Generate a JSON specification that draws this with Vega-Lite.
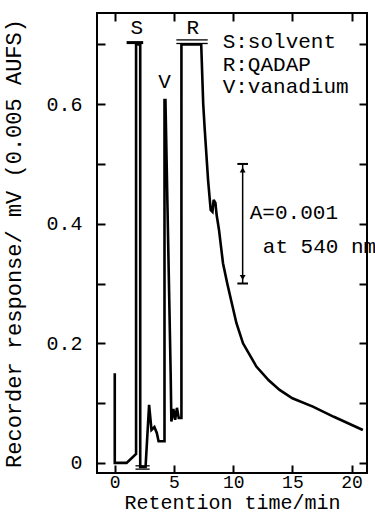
{
  "$schema": "https://vega.github.io/schema/vega-lite/v6.json",
  "width": 270,
  "height": 460,
  "autosize": "none",
  "padding": {"left": 97, "top": 13, "right": 8, "bottom": 41},
  "background": "white",
  "config": {
    "view": {"stroke": "black", "strokeWidth": 2},
    "font": "Liberation Mono",
    "axis": {
      "domain": false, "grid": false,
      "tickColor": "black", "tickWidth": 2, "tickSize": -8,
      "labelFont": "Liberation Mono", "labelFontSize": 20, "labelColor": "black",
      "titleFont": "Liberation Mono", "titleFontSize": 22, "titleFontWeight": "normal", "titleColor": "black"
    }
  },
  "datasets": {
    "trace": [
      {"i": 0, "t": 0, "v": 0.15},
      {"i": 1, "t": 0, "v": 0.0},
      {"i": 2, "t": 1.0, "v": 0.0},
      {"i": 3, "t": 1.8, "v": 0.015},
      {"i": 4, "t": 1.8, "v": 0.70},
      {"i": 5, "t": 2.15, "v": 0.70},
      {"i": 6, "t": 2.15, "v": -0.007},
      {"i": 7, "t": 2.6, "v": -0.007},
      {"i": 8, "t": 2.9, "v": 0.097},
      {"i": 9, "t": 3.1, "v": 0.055},
      {"i": 10, "t": 3.35, "v": 0.06},
      {"i": 11, "t": 3.55, "v": 0.05},
      {"i": 12, "t": 3.7, "v": 0.036},
      {"i": 13, "t": 4.05, "v": 0.036},
      {"i": 14, "t": 4.2, "v": 0.036},
      {"i": 15, "t": 4.2, "v": 0.607},
      {"i": 16, "t": 4.28, "v": 0.607},
      {"i": 17, "t": 4.72, "v": 0.15},
      {"i": 18, "t": 4.78, "v": 0.069},
      {"i": 19, "t": 4.95, "v": 0.09},
      {"i": 20, "t": 5.1, "v": 0.072},
      {"i": 21, "t": 5.25, "v": 0.092},
      {"i": 22, "t": 5.4, "v": 0.075},
      {"i": 23, "t": 5.63, "v": 0.075},
      {"i": 24, "t": 5.63, "v": 0.70},
      {"i": 25, "t": 7.3, "v": 0.70},
      {"i": 26, "t": 7.47, "v": 0.60},
      {"i": 27, "t": 7.6, "v": 0.557},
      {"i": 28, "t": 7.88, "v": 0.473},
      {"i": 29, "t": 8.1, "v": 0.423},
      {"i": 30, "t": 8.25, "v": 0.42},
      {"i": 31, "t": 8.35, "v": 0.44},
      {"i": 32, "t": 8.5, "v": 0.435},
      {"i": 33, "t": 8.6, "v": 0.415},
      {"i": 34, "t": 8.8, "v": 0.39},
      {"i": 35, "t": 9.14, "v": 0.334},
      {"i": 36, "t": 9.5, "v": 0.30},
      {"i": 37, "t": 9.85, "v": 0.27},
      {"i": 38, "t": 10.27, "v": 0.234},
      {"i": 39, "t": 10.83, "v": 0.20},
      {"i": 40, "t": 11.96, "v": 0.161},
      {"i": 41, "t": 13.0, "v": 0.138},
      {"i": 42, "t": 13.92, "v": 0.122},
      {"i": 43, "t": 15.0, "v": 0.108},
      {"i": 44, "t": 16.73, "v": 0.094},
      {"i": 45, "t": 18.5, "v": 0.077},
      {"i": 46, "t": 20.95, "v": 0.055}
    ],
    "caps": [
      {"t1": 1.0, "t2": 2.4, "v": 0.703, "w": 3},
      {"t1": 5.2, "t2": 7.85, "v": 0.7075, "w": 1.3},
      {"t1": 5.2, "t2": 7.85, "v": 0.7015, "w": 1.3},
      {"t1": 1.75, "t2": 2.95, "v": -0.005, "w": 1.3},
      {"t1": 1.75, "t2": 2.95, "v": -0.0105, "w": 1.3},
      {"t1": 10.35, "t2": 11.25, "v": 0.5, "w": 2},
      {"t1": 10.35, "t2": 11.25, "v": 0.3, "w": 2}
    ],
    "arrow": [{"t": 10.8, "v1": 0.3, "v2": 0.5}],
    "heads": [
      {"t": 10.8, "v": 0.49, "dir": "up"},
      {"t": 10.8, "v": 0.31, "dir": "down"}
    ],
    "peaks": [
      {"t": 1.86, "v": 0.727, "label": "S"},
      {"t": 6.6, "v": 0.727, "label": "R"},
      {"t": 4.2, "v": 0.637, "label": "V"}
    ],
    "notes": [
      {"t": 9.11, "v": 0.704, "label": "S:solvent"},
      {"t": 9.11, "v": 0.666, "label": "R:QADAP"},
      {"t": 9.11, "v": 0.629, "label": "V:vanadium"},
      {"t": 11.4, "v": 0.418, "label": "A=0.001"},
      {"t": 12.5, "v": 0.361, "label": "at 540 nm"}
    ]
  },
  "resolve": {"axis": {"x": "independent", "y": "independent"}},
  "layer": [
    {
      "data": {"name": "trace"},
      "mark": {"type": "line", "color": "black", "strokeWidth": 2.6, "strokeJoin": "miter", "strokeMiterLimit": 3},
      "encoding": {
        "x": {"field": "t", "type": "quantitative",
              "scale": {"domain": [-1.5, 21.3], "nice": false, "zero": false},
              "axis": {"orient": "bottom", "values": [0, 5, 10, 15, 20], "labelFontSize": 18, "labelPadding": 8, "title": "Retention time/min", "titleFontSize": 20, "titlePadding": 1}},
        "y": {"field": "v", "type": "quantitative",
              "scale": {"domain": [-0.017, 0.7525], "nice": false, "zero": false},
              "axis": {"orient": "left", "values": [0, 0.1, 0.2, 0.3, 0.4, 0.5, 0.6, 0.7],
                       "labelExpr": "round(datum.value*10) % 2 == 0 ? (datum.value == 0 ? '0' : format(datum.value, '.1f')) : ''",
                       "labelPadding": 23, "title": "Recorder response/ mV (0.005 AUFS)", "titlePadding": 20}},
        "order": {"field": "i", "type": "quantitative"}
      }
    },
    {
      "data": {"name": "caps"},
      "mark": {"type": "rule", "color": "black"},
      "encoding": {
        "x": {"field": "t1", "type": "quantitative",
              "axis": {"orient": "top", "values": [0, 5, 10, 15, 20], "labels": false, "title": null}},
        "x2": {"field": "t2"},
        "y": {"field": "v", "type": "quantitative",
              "axis": {"orient": "right", "values": [0, 0.1, 0.2, 0.3, 0.4, 0.5, 0.6, 0.7], "labels": false, "title": null}},
        "strokeWidth": {"field": "w", "type": "quantitative", "scale": null, "legend": null}
      }
    },
    {
      "data": {"name": "arrow"},
      "mark": {"type": "rule", "color": "black", "strokeWidth": 1.5},
      "encoding": {
        "x": {"field": "t", "type": "quantitative", "axis": null},
        "y": {"field": "v1", "type": "quantitative", "axis": null},
        "y2": {"field": "v2"}
      }
    },
    {
      "data": {"name": "heads"},
      "mark": {"type": "point", "filled": true, "color": "black", "size": 35, "opacity": 1},
      "encoding": {
        "x": {"field": "t", "type": "quantitative", "axis": null},
        "y": {"field": "v", "type": "quantitative", "axis": null},
        "shape": {"field": "dir", "type": "nominal", "scale": {"domain": ["up", "down"], "range": ["triangle-up", "triangle-down"]}, "legend": null}
      }
    },
    {
      "data": {"name": "peaks"},
      "mark": {"type": "text", "font": "Liberation Mono", "fontSize": 21, "align": "center", "baseline": "middle", "color": "black"},
      "encoding": {
        "x": {"field": "t", "type": "quantitative", "axis": null},
        "y": {"field": "v", "type": "quantitative", "axis": null},
        "text": {"field": "label"}
      }
    },
    {
      "data": {"name": "notes"},
      "mark": {"type": "text", "font": "Liberation Mono", "fontSize": 21, "align": "left", "baseline": "middle", "color": "black"},
      "encoding": {
        "x": {"field": "t", "type": "quantitative", "axis": null},
        "y": {"field": "v", "type": "quantitative", "axis": null},
        "text": {"field": "label"}
      }
    }
  ]
}
